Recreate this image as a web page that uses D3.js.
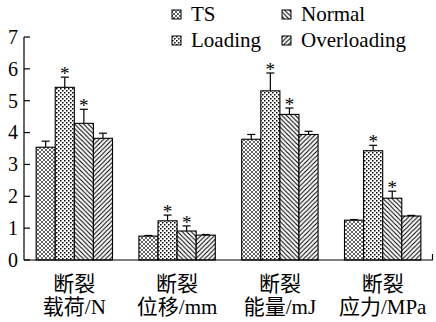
<!DOCTYPE html>
<html>
<head>
<meta charset="utf-8">
<script src="https://cdn.jsdelivr.net/npm/d3@7"></script>
<style>
  body { margin: 0; background: #fff; }
  svg { display: block; }
  text { font-family: "Liberation Serif", "Noto Sans CJK SC", serif; fill: #000; }
</style>
</head>
<body>
<svg id="chart" width="436" height="322"></svg>
<script>
// data
const categories = ['断裂|载荷/N', '断裂|位移/mm', '断裂|能量/mJ', '断裂|应力/MPa'];
const groups = ['TS', 'Loading', 'Normal', 'Overloading'];
const means = {
  TS:          [3.54, 0.75, 3.79, 1.25],
  Loading:     [5.42, 1.23, 5.31, 3.43],
  Normal:      [4.29, 0.91, 4.57, 1.94],
  Overloading: [3.82, 0.78, 3.94, 1.38]
};
const errors = {
  TS:          [0.19, 0.02, 0.15, 0.02],
  Loading:     [0.32, 0.18, 0.56, 0.17],
  Normal:      [0.44, 0.16, 0.20, 0.22],
  Overloading: [0.16, 0.02, 0.10, 0.02]
};
const starred = ['Loading', 'Normal'];
const yTicks = [0, 1, 2, 3, 4, 5, 6, 7];

const margin = { left: 24, right: 3, top: 37, bottom: 62 };
const W = 436, H = 322;
const svg = d3.select('#chart');

const defs = svg.append('defs');
function pat(id, size, draw) {
  const p = defs.append('pattern').attr('id', id)
    .attr('patternUnits', 'userSpaceOnUse')
    .attr('width', size).attr('height', size);
  p.append('rect').attr('width', size).attr('height', size).attr('fill', '#fff');
  draw(p, size);
}
// crosshatch
pat('p-TS', 4, (p, s) => {
  p.append('path').attr('d', `M0,0L${s},${s}M${s},0L0,${s}`)
    .attr('stroke', '#000').attr('stroke-width', 0.6).attr('fill', 'none');
});
// dots
pat('p-Loading', 4, p => {
  p.append('rect').attr('x', 0).attr('y', 0).attr('width', 1.5).attr('height', 1.5).attr('fill', '#000');
  p.append('rect').attr('x', 2).attr('y', 2).attr('width', 1.5).attr('height', 1.5).attr('fill', '#000');
});
// back slash
pat('p-Normal', 4.5, (p, s) => {
  p.append('path').attr('d', `M0,0L${s},${s}M${-s / 2},${s / 2}L${s / 2},${s * 1.5}M${s / 2},${-s / 2}L${s * 1.5},${s / 2}`)
    .attr('stroke', '#000').attr('stroke-width', 1.1).attr('fill', 'none');
});
// forward slash
pat('p-Overloading', 4.5, (p, s) => {
  p.append('path').attr('d', `M0,${s}L${s},0M${-s / 2},${s / 2}L${s / 2},${-s / 2}M${s / 2},${s * 1.5}L${s * 1.5},${s / 2}`)
    .attr('stroke', '#000').attr('stroke-width', 1.1).attr('fill', 'none');
});

const x0 = d3.scaleBand().domain(categories)
  .range([margin.left, W - margin.right])
  .paddingInner(0.257).paddingOuter(0.118);
const x1 = d3.scaleBand().domain(groups).range([0, x0.bandwidth()]);
const y = d3.scaleLinear().domain([0, 7]).range([H - margin.bottom, margin.top]);

const g = svg.append('g');

categories.forEach((cat, ci) => {
  groups.forEach(s => {
    const bx = x0(cat) + x1(s);
    const v = means[s][ci];
    const e = errors[s][ci];
    const cx = bx + x1.bandwidth() / 2;
    // error bar (upward)
    g.append('line').attr('x1', cx).attr('x2', cx)
      .attr('y1', y(v)).attr('y2', y(v + e))
      .attr('stroke', '#000').attr('stroke-width', 1.2);
    g.append('line').attr('x1', cx - 4).attr('x2', cx + 4)
      .attr('y1', y(v + e)).attr('y2', y(v + e))
      .attr('stroke', '#000').attr('stroke-width', 1.2);
    g.append('rect')
      .attr('x', bx).attr('y', y(v))
      .attr('width', x1.bandwidth()).attr('height', y(0) - y(v))
      .attr('fill', `url(#p-${s})`)
      .attr('stroke', '#000').attr('stroke-width', 1.1);
    if (starred.includes(s)) {
      g.append('text').attr('x', cx).attr('y', y(v + e) + 3)
        .attr('text-anchor', 'middle').attr('font-size', 19)
        .text('*');
    }
  });
  const lines = cat.split('|');
  const cx = x0(cat) + x0.bandwidth() / 2;
  lines.forEach((t, li) => {
    g.append('text').attr('x', cx).attr('y', 291 + li * 23)
      .attr('text-anchor', 'middle').attr('font-size', 21).text(t);
  });
});

// y axis
const yAxis = d3.axisLeft(y).tickValues(yTicks).tickSize(0).tickPadding(6).tickFormat(d3.format('d'));
const gy = svg.append('g').attr('transform', `translate(${margin.left},0)`).call(yAxis);
gy.select('.domain').remove();
gy.selectAll('.tick text').attr('font-size', 20).attr('font-family', '"Liberation Serif", serif');
svg.append('line').attr('x1', margin.left).attr('x2', margin.left)
  .attr('y1', y(7)).attr('y2', y(0)).attr('stroke', '#000').attr('stroke-width', 1.2);
yTicks.forEach(t => {
  svg.append('line').attr('x1', margin.left).attr('x2', margin.left + 6)
    .attr('y1', y(t)).attr('y2', y(t)).attr('stroke', '#000').attr('stroke-width', 1.2);
});
// x axis
svg.append('line').attr('x1', margin.left).attr('x2', W - margin.right)
  .attr('y1', y(0)).attr('y2', y(0)).attr('stroke', '#000').attr('stroke-width', 1.2);
svg.append('line').attr('x1', W - margin.right - 0.5).attr('x2', W - margin.right - 0.5)
  .attr('y1', y(0)).attr('y2', y(0) - 6).attr('stroke', '#000').attr('stroke-width', 1.2);

// legend
const legPos = [[172, 19], [172, 45], [282, 19], [282, 45]];
groups.forEach((s, i) => {
  const [lx, ly] = legPos[i];
  svg.append('rect').attr('x', lx).attr('y', ly - 9).attr('width', 9).attr('height', 9)
    .attr('fill', `url(#p-${s})`).attr('stroke', '#000').attr('stroke-width', 1);
  svg.append('text').attr('x', lx + 19).attr('y', ly + 2).attr('font-size', 21).text(s);
});
</script>
</body>
</html>
